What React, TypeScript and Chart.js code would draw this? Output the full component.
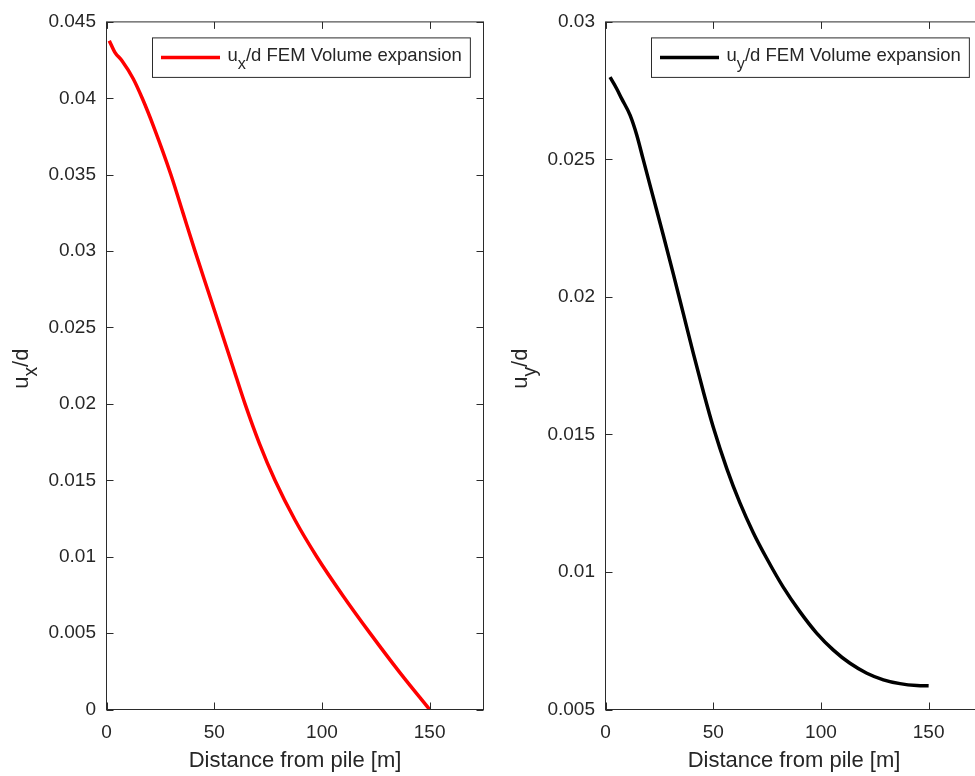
import React, { useEffect, useRef } from 'react';
import { Chart, registerables } from 'chart.js';

Chart.register(...registerables);

// ---------------- data ----------------
const xTicks = [0, 50, 100, 150];
const xMin = 0;
const xMax = 175;

const distanceUx = [1.3, 3.9, 7.1, 12.4, 16.6, 22.0, 29.9, 35.5, 41.1, 47.0, 52.7, 58.5, 64.3, 71.0, 78.2, 87.5, 97.6, 110.0, 122.3, 136.0, 150];
const uxOverD = [0.04377, 0.04301, 0.04247, 0.04128, 0.04000, 0.03810, 0.03500, 0.03250, 0.03000, 0.02745, 0.02500, 0.02250, 0.02000, 0.01740, 0.01500, 0.01240, 0.01000, 0.00740, 0.00500, 0.00245, 0];

const distanceUy = [2.1, 5.2, 7.5, 11.4, 14.5, 17.5, 22.2, 26.8, 31.5, 36.1, 40.8, 45.4, 50.0, 56.3, 62.4, 68.6, 74.8, 82.5, 90.3, 98.0, 105.8, 113.5, 121.3, 129.0, 136.7, 144.5, 150];
const uyOverD = [0.02799, 0.02757, 0.02721, 0.02661, 0.02589, 0.02500, 0.02361, 0.02225, 0.02083, 0.01940, 0.01794, 0.01656, 0.01527, 0.01376, 0.01251, 0.01143, 0.01050, 0.00945, 0.00855, 0.00778, 0.00716, 0.00668, 0.00632, 0.00608, 0.00594, 0.00587, 0.00586];

const uxTicks = [0, 0.005, 0.01, 0.015, 0.02, 0.025, 0.03, 0.035, 0.04, 0.045];
const uyTicks = [0.005, 0.01, 0.015, 0.02, 0.025, 0.03];

const xAxisTitle = 'Distance from pile [m]';
const yTitleBase = 'u';
const yTitleRest = '/d';
const legendRest = '/d FEM Volume expansion';

// ---------------- styles ----------------
const FONT = '"Liberation Sans", Arial, Helvetica, sans-serif';
const TEXT = '#262626';
const AXIS = '#2b2b2b';
const TICK_SIZE = 19;
const LABEL_SIZE = 22;
const LEGEND_SIZE = 18.5;

function fmt(v: number): string {
  return String(Number(v.toFixed(4)));
}

function drawSubText(ctx: CanvasRenderingContext2D, x: number, y: number, base: string, sub: string, rest: string, size: number) {
  const subSize = size * 0.88;
  ctx.font = `${size}px ${FONT}`;
  ctx.fillText(base, x, y);
  let cx = x + ctx.measureText(base).width;
  ctx.font = `${subSize}px ${FONT}`;
  ctx.fillText(sub, cx, y + size * 0.45);
  cx += ctx.measureText(sub).width;
  ctx.font = `${size}px ${FONT}`;
  ctx.fillText(rest, cx, y);
}

function measureSubText(ctx: CanvasRenderingContext2D, base: string, sub: string, rest: string, size: number) {
  ctx.font = `${size}px ${FONT}`;
  let w = ctx.measureText(base).width + ctx.measureText(rest).width;
  ctx.font = `${size * 0.88}px ${FONT}`;
  w += ctx.measureText(sub).width;
  return w;
}

const matlabAxesPlugin = {
  id: 'matlabAxes',
  afterDraw(chart: any, _args: any, opts: any) {
    const { ctx, chartArea } = chart;
    const { left, right, top, bottom } = chartArea;
    const xs = chart.scales.x;
    const ys = chart.scales.y;
    ctx.save();
    // box
    ctx.strokeStyle = AXIS;
    ctx.lineWidth = 1;
    ctx.strokeRect(left, top, right - left, bottom - top);
    // inward ticks
    const tl = 7;
    ctx.beginPath();
    xs.ticks.forEach((t: any) => {
      const px = Math.round(xs.getPixelForValue(t.value)) + 0.5;
      ctx.moveTo(px, bottom);
      ctx.lineTo(px, bottom - tl);
      ctx.moveTo(px, top);
      ctx.lineTo(px, top + tl);
    });
    ys.ticks.forEach((t: any) => {
      const py = Math.round(ys.getPixelForValue(t.value)) + 0.5;
      ctx.moveTo(left, py);
      ctx.lineTo(left + tl, py);
      ctx.moveTo(right, py);
      ctx.lineTo(right - tl, py);
    });
    ctx.stroke();

    ctx.fillStyle = TEXT;
    ctx.textBaseline = 'alphabetic';
    // x title
    ctx.font = `${LABEL_SIZE}px ${FONT}`;
    ctx.textAlign = 'center';
    ctx.fillText(opts.xTitle, (left + right) / 2, 767);

    // y title (rotated, with subscript)
    ctx.textAlign = 'left';
    const yw = measureSubText(ctx, yTitleBase, opts.sub, yTitleRest, LABEL_SIZE);
    ctx.save();
    ctx.translate(left - 79, (top + bottom) / 2 + 3);
    ctx.rotate(-Math.PI / 2);
    drawSubText(ctx, -yw / 2, 0, yTitleBase, opts.sub, yTitleRest, LABEL_SIZE);
    ctx.restore();

    // legend
    const ds = chart.data.datasets[0];
    const tw = measureSubText(ctx, yTitleBase, opts.sub, legendRest, LEGEND_SIZE);
    const bw = 75 + tw + 8.5;
    const bh = 39.5;
    const bx = Math.round(right - 13.5 - bw) + 0.5;
    const by = top + 16;
    ctx.fillStyle = '#ffffff';
    ctx.fillRect(bx, by, bw, bh);
    ctx.strokeStyle = AXIS;
    ctx.lineWidth = 1;
    ctx.strokeRect(bx, by, bw, bh);
    ctx.strokeStyle = ds.borderColor;
    ctx.lineWidth = ds.borderWidth;
    ctx.beginPath();
    ctx.moveTo(bx + 8.5, by + 19.5);
    ctx.lineTo(bx + 67.5, by + 19.5);
    ctx.stroke();
    ctx.fillStyle = TEXT;
    drawSubText(ctx, bx + 75, by + 23, yTitleBase, opts.sub, legendRest, LEGEND_SIZE);
    ctx.restore();
  },
};

function makeConfig(xsArr: number[], ysArr: number[], color: string, yMin: number, yMax: number, yTicks: number[], yWidth: number, padRight: number, sub: string): any {
  return {
    type: 'line',
    data: {
      datasets: [
        {
          label: `u${sub}/d FEM Volume expansion`,
          data: xsArr.map((x, i) => ({ x, y: ysArr[i] })),
          borderColor: color,
          backgroundColor: color,
          borderWidth: 3.5,
          pointRadius: 0,
          fill: false,
          cubicInterpolationMode: 'monotone',
          tension: 0.4,
        },
      ],
    },
    options: {
      responsive: false,
      maintainAspectRatio: false,
      animation: false,
      layout: { padding: { left: 0, right: padRight, top: 16.5, bottom: 0 } },
      plugins: {
        legend: { display: false },
        tooltip: { enabled: false },
        matlabAxes: { xTitle: xAxisTitle, sub },
      },
      scales: {
        x: {
          type: 'linear',
          min: xMin,
          max: xMax,
          afterBuildTicks: (s: any) => {
            s.ticks = xTicks.map((v) => ({ value: v }));
          },
          afterFit: (s: any) => {
            s.height = 66.5;
          },
          grid: { display: false, drawTicks: false },
          border: { display: false },
          ticks: {
            padding: 12,
            color: TEXT,
            font: { family: FONT, size: TICK_SIZE },
            maxRotation: 0,
            autoSkip: false,
            callback: (v: number) => fmt(v),
          },
        },
        y: {
          type: 'linear',
          min: yMin,
          max: yMax,
          afterBuildTicks: (s: any) => {
            s.ticks = yTicks.map((v) => ({ value: v }));
          },
          afterFit: (s: any) => {
            s.width = yWidth;
          },
          grid: { display: false, drawTicks: false },
          border: { display: false },
          ticks: {
            padding: 10.5,
            color: TEXT,
            font: { family: FONT, size: TICK_SIZE },
            autoSkip: false,
            callback: (v: number) => fmt(v),
          },
        },
      },
    },
    plugins: [matlabAxesPlugin],
  };
}

export default function App() {
  const leftRef = useRef<HTMLCanvasElement | null>(null);
  const rightRef = useRef<HTMLCanvasElement | null>(null);

  useEffect(() => {
    const c1 = new Chart(leftRef.current as HTMLCanvasElement, makeConfig(distanceUx, uxOverD, '#ff0000', 0, 0.045, uxTicks, 106.5, 16.5, 'x'));
    const c2 = new Chart(rightRef.current as HTMLCanvasElement, makeConfig(distanceUy, uyOverD, '#000000', 0.005, 0.03, uyTicks, 105.5, 17.5, 'y'));
    return () => {
      c1.destroy();
      c2.destroy();
    };
  }, []);

  return (
    <div style={{ position: 'fixed', left: 0, top: 0, width: 975, height: 776, overflow: 'hidden', background: '#ffffff' }}>
      <canvas ref={leftRef} width={500} height={776} style={{ position: 'absolute', left: 0, top: 0 }} />
      <canvas ref={rightRef} width={500} height={776} style={{ position: 'absolute', left: 500, top: 0 }} />
    </div>
  );
}
